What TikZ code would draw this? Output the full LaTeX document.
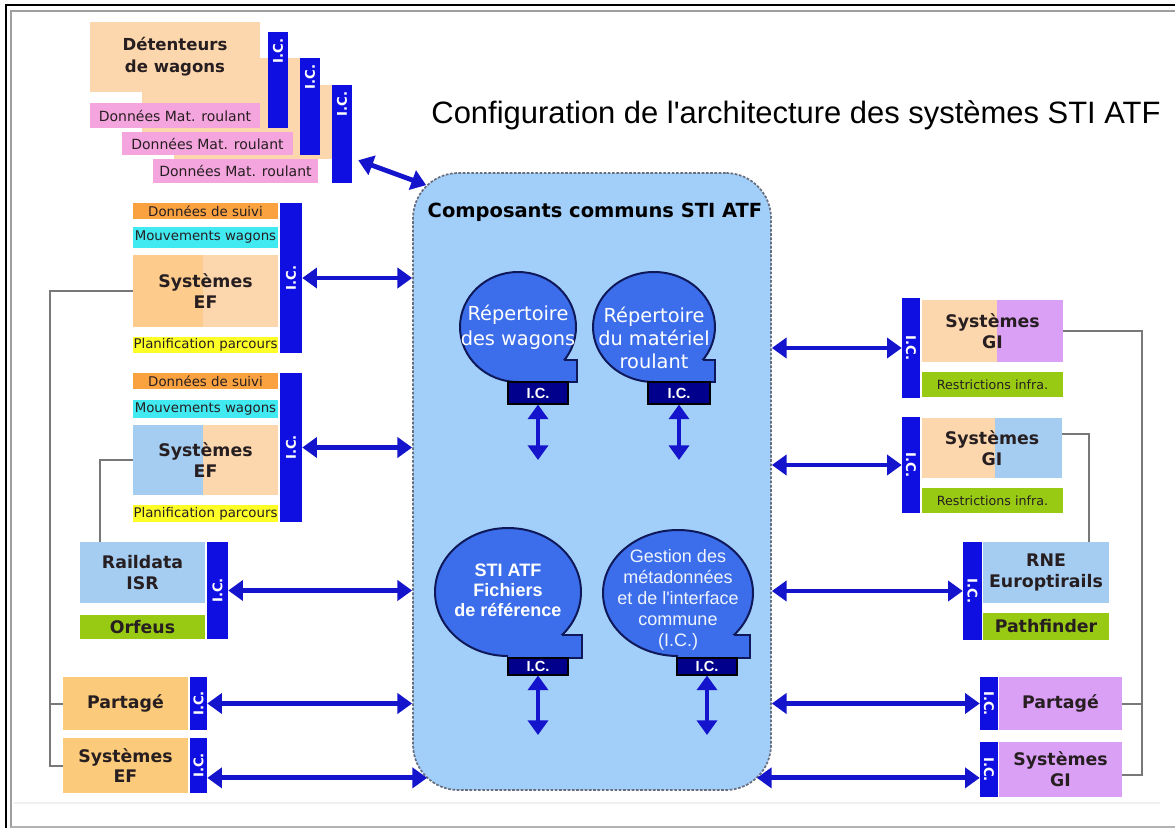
\documentclass[tikz,border=0pt]{standalone}
\usepackage{graphicx}
\usepackage{fontspec}
\setmainfont{DejaVu Sans}
\newfontfamily\lib{Liberation Sans}
\usetikzlibrary{arrows.meta}

\definecolor{peach}{RGB}{252,214,172}
\definecolor{orng}{RGB}{253,204,140}
\definecolor{partor}{RGB}{251,202,122}
\definecolor{suivi}{RGB}{250,162,64}
\definecolor{cyanb}{RGB}{64,234,240}
\definecolor{yel}{RGB}{255,255,40}
\definecolor{grn}{RGB}{152,202,20}
\definecolor{lblue}{RGB}{165,205,242}
\definecolor{purp}{RGB}{218,160,245}
\definecolor{pinkl}{RGB}{245,165,222}
\definecolor{icbar}{RGB}{15,15,225}
\definecolor{arrowb}{RGB}{20,20,205}
\definecolor{cbox}{RGB}{162,206,250}
\definecolor{cborder}{RGB}{105,110,125}
\definecolor{bub}{RGB}{60,110,235}
\definecolor{bubline}{RGB}{15,25,90}
\definecolor{icnavy}{RGB}{0,0,140}
\definecolor{txt}{RGB}{38,30,32}
\definecolor{greyline}{RGB}{120,120,120}

\newcommand\rbox[7]{\node[#1, minimum width={((#5)-(#3))*0.75pt}, minimum height={((#6)-(#4))*0.75pt}] (#2) at ({((#3)+(#5))/2},{((#4)+(#6))/2}) {#7};}
\newcommand\ict{\rotatebox{90}{I.C.}}
\newcommand\icr{\rotatebox{-90}{I.C.}}

\begin{document}
\begin{tikzpicture}[x=0.75pt,y=-0.75pt,
  >={Triangle[length=11pt,width=15pt]},
  plainbox/.style={draw=none, inner sep=0pt, align=center, text=txt},
  boldtxt/.style={font={\fontsize{13}{15.5}\selectfont\bfseries}},
  smalltxt/.style={font={\fontsize{10}{12}\selectfont}},
  peachbox/.style={plainbox, fill=peach},
  pinkbox/.style={plainbox, fill=pinkl, font={\fontsize{10.5}{12}\selectfont}},
  suivibox/.style={plainbox, fill=suivi, smalltxt},
  cyanbox/.style={plainbox, fill=cyanb, smalltxt},
  yelbox/.style={plainbox, fill=yel, smalltxt},
  grnbox/.style={plainbox, fill=grn, font={\fontsize{9.5}{11}\selectfont}},
  grnbold/.style={plainbox, fill=grn, boldtxt},
  lbluebox/.style={plainbox, fill=lblue, boldtxt},
  orbox/.style={plainbox, fill=partor, boldtxt},
  purpbox/.style={plainbox, fill=purp, boldtxt},
  icbarbox/.style={fill=icbar, draw=none, inner sep=0pt, text=white, font={\fontsize{10}{12}\selectfont\bfseries}},
  ictext/.style={inner sep=0pt, text=white, font={\fontsize{10}{12}\selectfont\bfseries}},
  icnavybox/.style={fill=icnavy, draw=black, line width=0.8pt, inner sep=0pt, text=white, font={\lib\fontsize{11}{12}\selectfont\bfseries}},
  link/.style={arrowb, line width=3.6pt, <->},
  conn/.style={greyline, line width=1.5pt},
  centralbox/.style={fill=cbox, draw=cborder, line width=1.3pt, dash pattern=on 2pt off 1.2pt, rounded corners=34pt, inner sep=0pt},
  bubshape/.style={fill=bub, draw=bubline, line width=1.5pt},
  bubedge/.style={bubline, line width=1.5pt},
  bubtext/.style={inner sep=0pt, align=center, text=white}
]
\useasboundingbox (0,0) rectangle (1175,828);
\fill[white] (0,0) rectangle (1175,828);

% frame
\draw[black, line width=2.2pt] (6,830) -- (6,5) -- (1177,5);
\draw[gray!75, line width=2.2pt] (11,830) -- (11,11) -- (1177,11);
\draw[gray!60, line width=1.5pt] (11,826.5) -- (1177,826.5);
\draw[gray!12, line width=1pt] (14,803) -- (1160,803);

% title
\node[inner sep=0pt, font={\lib\fontsize{23.2}{26}\selectfont}] (title) at (796,115) {Configuration de l'architecture des systèmes STI ATF};

% central box
\rbox{centralbox}{central}{413}{173}{771}{790}{}
\node[inner sep=0pt, font={\fontsize{14.6}{17}\selectfont\bfseries}] (ctitle) at (595,212) {Composants communs STI ATF};

% bubble 1
\filldraw[bubshape] (518,327) ellipse [x radius=58, y radius=55];
\fill[bub] (518,360) rectangle (577,382);
\draw[bubedge] (564,360) -- (577,360) -- (577,382) -- (518,382);
\node[bubtext, font={\fontsize{14.5}{19}\selectfont}] (b1) at (518,327) {Répertoire\\des wagons};
\rbox{icnavybox}{icb1}{508}{382}{568}{404}{I.C.}
\coordinate (v1) at (538,460);
\draw[link] (icb1.south) -- (v1);

% bubble 2
\filldraw[bubshape] (654,327) ellipse [x radius=61, y radius=55];
\fill[bub] (654,360) rectangle (715,382);
\draw[bubedge] (703,360) -- (715,360) -- (715,382) -- (654,382);
\node[bubtext, font={\fontsize{14.5}{17.3}\selectfont}] (b2) at (654,338) {Répertoire\\du matériel\\roulant};
\rbox{icnavybox}{icb2}{648}{382}{710}{404}{I.C.}
\coordinate (v2) at (679,460);
\draw[link] (icb2.south) -- (v2);

% bubble 3
\filldraw[bubshape] (508,592) ellipse [x radius=73, y radius=64];
\fill[bub] (508,635) rectangle (582,658);
\draw[bubedge] (562,635) -- (582,635) -- (582,658) -- (508,658);
\node[bubtext, font={\lib\fontsize{13.5}{15}\selectfont\bfseries}] (b3) at (508,590) {STI ATF\\Fichiers\\de référence};
\rbox{icnavybox}{icb3}{508}{658}{568}{675}{I.C.}
\coordinate (v3) at (538,735);
\draw[link] (icb3.south) -- (v3);

% bubble 4
\filldraw[bubshape] (678,593) ellipse [x radius=75, y radius=63];
\fill[bub] (678,635) rectangle (750,658);
\draw[bubedge] (734,635) -- (750,635) -- (750,658) -- (678,658);
\node[bubtext, text=white!92!bub, font={\lib\fontsize{13.5}{15.7}\selectfont}] (b4) at (678,600) {Gestion des\\métadonnées\\et de l'interface\\commune\\(I.C.)};
\rbox{icnavybox}{icb4}{677}{658}{737}{675}{I.C.}
\coordinate (v4) at (707,735);
\draw[link] (icb4.south) -- (v4);

% top-left stack (back to front)
\rbox{peachbox}{det3}{174}{85}{332}{159}{}
\rbox{icbarbox}{ic3}{332}{85}{352}{183}{}
\rbox{pinkbox}{dm3}{153}{159}{318}{183}{Données Mat. roulant}
\node[ictext] (ic3t) at (342,104) {\ict};
\rbox{peachbox}{det2}{142}{58}{300}{132}{}
\rbox{icbarbox}{ic2}{300}{58}{320}{155}{}
\rbox{pinkbox}{dm2}{122}{132}{293}{155}{Données Mat. roulant}
\node[ictext] (ic2t) at (310,77) {\ict};
\rbox{peachbox, font={\fontsize{12.4}{16.5}\selectfont\bfseries}}{det1}{90}{22}{260}{92}{Détenteurs\\de wagons}
\rbox{icbarbox}{ic1}{268}{32}{288}{128}{}
\rbox{pinkbox}{dm1}{90}{103}{260}{128}{Données Mat. roulant}
\node[ictext] (ic1t) at (278,51) {\ict};
\draw[link] ([shift={(6,-23)}]ic3.south east) -- ([shift={(14,13)}]central.north west);

% left EF group 1
\rbox{suivibox}{ds1}{133}{203}{278}{219}{Données de suivi}
\rbox{cyanbox}{mw1}{133}{227}{278}{248}{Mouvements wagons}
\fill[orng] (133,255) rectangle (203,327);
\fill[peach] (203,255) rectangle (278,327);
\rbox{plainbox, boldtxt}{ef1}{133}{255}{278}{327}{Systèmes\\EF}
\rbox{yelbox}{pp1}{133}{337}{278}{353}{Planification parcours}
\rbox{icbarbox}{icef1}{280}{203}{302}{353}{\ict}
\draw[link] (icef1.east) -- (icef1.east -| central.west);

% left EF group 2
\rbox{suivibox}{ds2}{133}{373}{278}{389}{Données de suivi}
\rbox{cyanbox}{mw2}{133}{400}{278}{418}{Mouvements wagons}
\fill[lblue] (133,425) rectangle (203,495);
\fill[peach] (203,425) rectangle (278,495);
\rbox{plainbox, boldtxt}{ef2}{133}{425}{278}{495}{Systèmes\\EF}
\rbox{yelbox}{pp2}{133}{505}{278}{522}{Planification parcours}
\rbox{icbarbox}{icef2}{280}{373}{302}{522}{\ict}
\draw[link] (icef2.east) -- (icef2.east -| central.west);

% Raildata
\rbox{lbluebox}{rd}{80}{542}{205}{603}{Raildata\\ISR}
\rbox{grnbold}{orf}{80}{615}{205}{639}{Orfeus}
\rbox{icbarbox}{icrd}{207}{542}{228}{639}{\ict}
\draw[link] (icrd.east) -- (icrd.east -| central.west);

% Partage left
\rbox{orbox}{pl}{63}{677}{188}{730}{Partagé}
\rbox{icbarbox}{icpl}{190}{677}{207}{730}{\ict}
\draw[link] (icpl.east) -- (icpl.east -| central.west);

% Systemes EF bottom
\rbox{orbox}{efb}{63}{738}{188}{793}{Systèmes\\EF}
\rbox{icbarbox}{icefb}{190}{738}{207}{793}{\ict}
\coordinate (cbl) at ([shift={(15,-13)}]central.south west);
\draw[link] (icefb.east |- cbl) -- (cbl);

% left grey connectors
\coordinate (lbus) at (50,291);
\draw[conn] (ef1.west) -- (lbus) |- (efb.west);
\draw[conn] (pl.west) -- (pl.west -| lbus);
\coordinate (l2) at (100,460);
\draw[conn] (ef2.west) -- (l2) -- (l2 |- rd.north);

% right GI group 1
\rbox{icbarbox}{icgi1}{902}{298}{920}{398}{\icr}
\fill[peach] (922,300) rectangle (997,362);
\fill[purp] (997,300) rectangle (1063,362);
\rbox{plainbox, boldtxt}{gi1}{922}{300}{1063}{362}{Systèmes\\GI}
\rbox{grnbox}{rs1}{922}{372}{1063}{397}{Restrictions infra.}
\draw[link] (icgi1.west -| central.east) -- (icgi1.west);

% right GI group 2
\rbox{icbarbox}{icgi2}{902}{417}{920}{513}{\icr}
\fill[peach] (922,418) rectangle (995,478);
\fill[lblue] (995,418) rectangle (1062,478);
\rbox{plainbox, boldtxt}{gi2}{922}{418}{1062}{478}{Systèmes\\GI}
\rbox{grnbox}{rs2}{922}{488}{1063}{513}{Restrictions infra.}
\draw[link] (icgi2.west -| central.east) -- (icgi2.west);

% RNE
\rbox{icbarbox}{icrne}{963}{542}{982}{640}{\icr}
\rbox{lbluebox}{rne}{983}{542}{1109}{603}{RNE\\Europtirails}
\rbox{grnbold}{pf}{983}{613}{1109}{640}{Pathfinder}
\draw[link] (icrne.west -| central.east) -- (icrne.west);

% Partage right
\rbox{icbarbox}{icpr}{980}{677}{998}{730}{\icr}
\rbox{purpbox}{pr}{999}{677}{1122}{730}{Partagé}
\draw[link] (icpr.west -| central.east) -- (icpr.west);

% Systemes GI bottom
\rbox{icbarbox}{icgib}{980}{742}{998}{797}{\icr}
\rbox{purpbox}{gib}{999}{742}{1122}{797}{Systèmes\\GI}
\coordinate (cbr) at ([shift={(-15,-13)}]central.south east);
\draw[link] (cbr) -- (cbr -| icgib.west);

% right grey connectors
\coordinate (rbus) at (1142,331);
\draw[conn] (gi1.east) -- (rbus) |- ([yshift=-4pt]gib.east);
\draw[conn] (pr.east) -- (pr.east -| rbus);
\coordinate (r2) at (1089,434);
\draw[conn] (gi2.east |- r2) -- (r2) -- (r2 |- rne.north);
\end{tikzpicture}
\end{document}
